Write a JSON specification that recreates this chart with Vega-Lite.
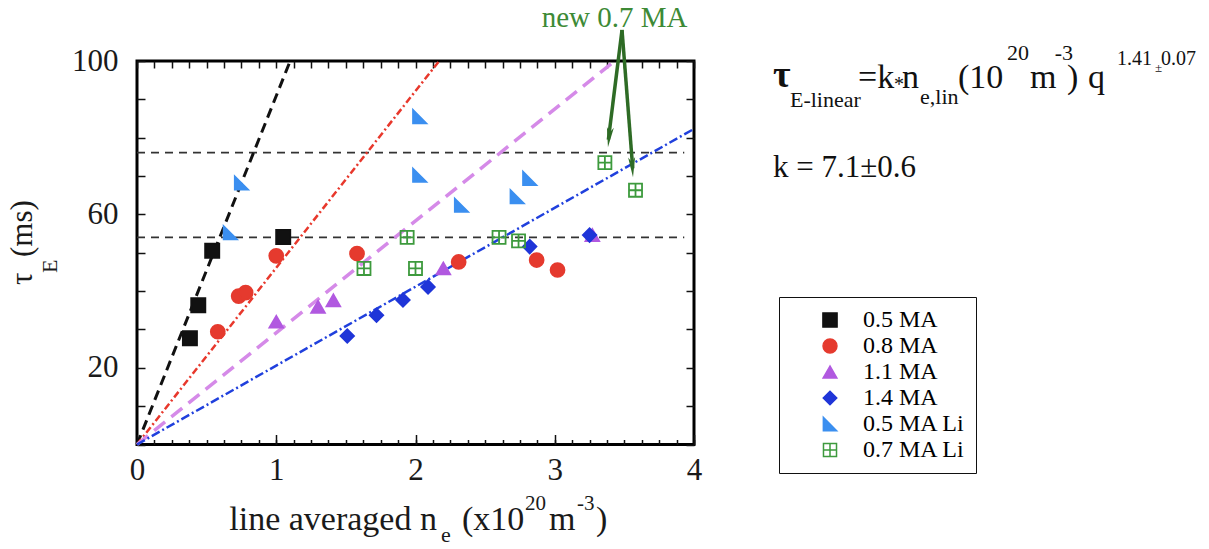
{
  "$schema": "https://vega.github.io/schema/vega-lite/v6.json",
  "width": 557,
  "height": 383.5,
  "autosize": "none",
  "padding": {"left": 137, "top": 61, "right": 515, "bottom": 104.5},
  "background": "white",
  "config": {
    "view": {"stroke": "#000000", "strokeWidth": 3},
    "axis": {"domain": false, "grid": false, "tickColor": "#111111", "tickWidth": 1.5, "labelFont": "Liberation Serif", "labelFontSize": 31, "labelColor": "#1a1a1a", "labelFlush": false, "labelOverlap": false}
  },
  "datasets": {
    "points": [
      {"series": "1.1 MA", "ne": 1.0, "tau": 32.0},
      {"series": "1.1 MA", "ne": 1.3, "tau": 35.9},
      {"series": "1.1 MA", "ne": 1.41, "tau": 37.6},
      {"series": "1.1 MA", "ne": 2.2, "tau": 45.9},
      {"series": "1.1 MA", "ne": 3.27, "tau": 54.6},
      {"series": "0.5 MA Li", "ne": 0.75, "tau": 68.2},
      {"series": "0.5 MA Li", "ne": 0.67, "tau": 55.2},
      {"series": "0.5 MA Li", "ne": 2.03, "tau": 85.5},
      {"series": "0.5 MA Li", "ne": 2.03, "tau": 70.2},
      {"series": "0.5 MA Li", "ne": 2.33, "tau": 62.4},
      {"series": "0.5 MA Li", "ne": 2.73, "tau": 64.6},
      {"series": "0.5 MA Li", "ne": 2.82, "tau": 69.4},
      {"series": "0.8 MA", "ne": 1.0, "tau": 49.2},
      {"series": "0.8 MA", "ne": 1.58, "tau": 49.8},
      {"series": "0.8 MA", "ne": 0.73, "tau": 38.7},
      {"series": "0.8 MA", "ne": 0.78, "tau": 39.6},
      {"series": "0.8 MA", "ne": 0.58, "tau": 29.4},
      {"series": "0.8 MA", "ne": 2.31, "tau": 47.6},
      {"series": "0.8 MA", "ne": 2.87, "tau": 48.1},
      {"series": "0.8 MA", "ne": 3.02, "tau": 45.5},
      {"series": "0.5 MA", "ne": 1.05, "tau": 54.1},
      {"series": "0.5 MA", "ne": 0.54, "tau": 50.5},
      {"series": "0.5 MA", "ne": 0.44, "tau": 36.3},
      {"series": "0.5 MA", "ne": 0.38, "tau": 27.7},
      {"series": "1.4 MA", "ne": 1.51, "tau": 28.3},
      {"series": "1.4 MA", "ne": 1.72, "tau": 33.7},
      {"series": "1.4 MA", "ne": 1.91, "tau": 37.7},
      {"series": "1.4 MA", "ne": 2.09, "tau": 41.1},
      {"series": "1.4 MA", "ne": 2.82, "tau": 51.6},
      {"series": "1.4 MA", "ne": 3.25, "tau": 54.6},
      {"series": "0.7 MA Li", "ne": 1.94, "tau": 54.0},
      {"series": "0.7 MA Li", "ne": 1.63, "tau": 45.9},
      {"series": "0.7 MA Li", "ne": 2.0, "tau": 45.9},
      {"series": "0.7 MA Li", "ne": 2.6, "tau": 54.0},
      {"series": "0.7 MA Li", "ne": 2.74, "tau": 53.1},
      {"series": "0.7 MA Li", "ne": 3.36, "tau": 73.5},
      {"series": "0.7 MA Li", "ne": 3.58, "tau": 66.3}
    ],
    "fits": [
      {"series": "0.5 MA", "ne": 0.0, "tau": 0.0},
      {"series": "0.5 MA", "ne": 1.1, "tau": 100.0},
      {"series": "0.8 MA", "ne": 0.0, "tau": 0.0},
      {"series": "0.8 MA", "ne": 2.17, "tau": 100.0},
      {"series": "1.1 MA", "ne": 0.0, "tau": 0.0},
      {"series": "1.1 MA", "ne": 3.43, "tau": 100.0},
      {"series": "1.4 MA", "ne": 0.0, "tau": 0.0},
      {"series": "1.4 MA", "ne": 4.0, "tau": 82.3}
    ],
    "hlines": [
      {"ne": 0, "ne2": 3.93, "tau": 76.1},
      {"ne": 0, "ne2": 3.93, "tau": 54.0}
    ],
    "arrows": [
      {"arrow": "L", "ne": 3.483, "tau": 108.1},
      {"arrow": "L", "ne": 3.385, "tau": 79.5},
      {"arrow": "R", "ne": 3.483, "tau": 108.1},
      {"arrow": "R", "ne": 3.56, "tau": 72.0}
    ],
    "heads": [
      {"arrow": "L", "ne": 3.382, "tau": 77.5},
      {"arrow": "R", "ne": 3.562, "tau": 69.7}
    ],
    "note": [{"ne": 3.43, "tau": 108.8, "label": "new 0.7 MA"}],
    "ftau": [{"ne": 4.567, "tau": 93.2, "label": "τ"}],
    "fsub": [
      {"ne": 4.689, "tau": 88.0, "label": "E-linear"},
      {"ne": 5.623, "tau": 88.8, "label": "e,lin"}
    ],
    "fmain": [
      {"ne": 5.178, "tau": 92.9, "label": "=k"},
      {"ne": 5.494, "tau": 92.9, "label": "n"},
      {"ne": 5.896, "tau": 92.9, "label": "(10"},
      {"ne": 6.413, "tau": 92.9, "label": "m"},
      {"ne": 6.679, "tau": 92.9, "label": ")"},
      {"ne": 6.83, "tau": 92.9, "label": "q"}
    ],
    "fstar": [{"ne": 5.436, "tau": 92.15, "label": "*"}],
    "fsup": [
      {"ne": 6.248, "tau": 100.2, "label": "20"},
      {"ne": 6.59, "tau": 100.2, "label": "-3"}
    ],
    "fexp": [
      {"ne": 7.038, "tau": 98.96, "label": "1.41"},
      {"ne": 7.354, "tau": 98.96, "label": "0.07"}
    ],
    "fpm": [{"ne": 7.311, "tau": 97.1, "label": "±"}],
    "fk": [{"ne": 4.567, "tau": 69.7, "label": "k = 7.1±0.6"}],
    "ytmain": [
      {"ne": -0.754, "tau": 41.6, "label": "τ"},
      {"ne": -0.754, "tau": 48.9, "label": "(ms)"}
    ],
    "ytsub": [{"ne": -0.575, "tau": 44.7, "label": "E"}],
    "xtright": [{"ne": 2.154, "tau": -22.3, "label": "line averaged n"}],
    "xtmain": [
      {"ne": 2.334, "tau": -22.3, "label": "(x10"},
      {"ne": 2.959, "tau": -22.3, "label": "m"},
      {"ne": 3.296, "tau": -22.3, "label": ")"}
    ],
    "xtsub": [{"ne": 2.183, "tau": -25.5, "label": "e"}],
    "xtsup": [
      {"ne": 2.786, "tau": -17.1, "label": "20"},
      {"ne": 3.16, "tau": -17.1, "label": "-3"}
    ]
  },
  "encoding": {
    "x": {"field": "ne", "type": "quantitative", "scale": {"domain": [0, 4], "nice": false, "zero": false}, "axis": null},
    "y": {"field": "tau", "type": "quantitative", "scale": {"domain": [0, 100], "nice": false, "zero": false}, "axis": null}
  },
  "layer": [
    {
      "data": {"name": "hlines"},
      "mark": {"type": "rule", "color": "#333333", "strokeWidth": 1.6, "strokeDash": [8, 6]},
      "encoding": {
        "x": {"field": "ne", "type": "quantitative", "scale": {"domain": [0, 4], "nice": false, "zero": false},
          "axis": {"orient": "top", "title": null, "labels": false, "tickSize": -7,
            "values": [0,0.125,0.25,0.375,0.5,0.625,0.75,0.875,1,1.125,1.25,1.375,1.5,1.625,1.75,1.875,2,2.125,2.25,2.375,2.5,2.625,2.75,2.875,3,3.125,3.25,3.375,3.5,3.625,3.75,3.875,4]}},
        "x2": {"field": "ne2"},
        "y": {"field": "tau", "type": "quantitative", "scale": {"domain": [0, 100], "nice": false, "zero": false},
          "axis": {"orient": "right", "title": null, "labels": false, "tickSize": -8, "values": [0,10,20,30,40,50,60,70,80,90,100]}}
      }
    },
    {
      "data": {"name": "fits"},
      "transform": [{"filter": "datum.series === '0.5 MA'"}],
      "mark": {"type": "line", "color": "#111111", "strokeWidth": 3, "strokeDash": [10, 6]},
      "encoding": {
        "x": {"field": "ne", "type": "quantitative", "scale": {"domain": [0, 4], "nice": false, "zero": false},
          "axis": {"orient": "bottom", "title": null, "labels": false, "tickSize": -5,
            "values": [0,0.125,0.25,0.375,0.5,0.625,0.75,0.875,1,1.125,1.25,1.375,1.5,1.625,1.75,1.875,2,2.125,2.25,2.375,2.5,2.625,2.75,2.875,3,3.125,3.25,3.375,3.5,3.625,3.75,3.875,4]}}
      }
    },
    {
      "data": {"name": "fits"},
      "transform": [{"filter": "datum.series === '0.8 MA'"}],
      "mark": {"type": "line", "color": "#e8382c", "strokeWidth": 2.5, "strokeDash": [7, 3, 2, 3]},
      "encoding": {}
    },
    {
      "data": {"name": "fits"},
      "transform": [{"filter": "datum.series === '1.1 MA'"}],
      "mark": {"type": "line", "color": "#d58ae8", "strokeWidth": 3.5, "strokeDash": [14, 8]},
      "encoding": {}
    },
    {
      "data": {"name": "fits"},
      "transform": [{"filter": "datum.series === '1.4 MA'"}],
      "mark": {"type": "line", "color": "#2040dd", "strokeWidth": 2.5, "strokeDash": [9, 3, 2, 3]},
      "encoding": {}
    },
    {
      "data": {"name": "points"},
      "mark": {"type": "point", "filled": true, "opacity": 1, "strokeWidth": 1.8},
      "encoding": {
        "x": {"field": "ne", "type": "quantitative", "scale": {"domain": [0, 4], "nice": false, "zero": false},
          "axis": {"orient": "bottom", "title": null, "tickSize": -10, "labelPadding": 21, "values": [0, 1, 2, 3, 4]}},
        "y": {"field": "tau", "type": "quantitative", "scale": {"domain": [0, 100], "nice": false, "zero": false},
          "axis": {"orient": "left", "title": null, "tickSize": -8, "labelPadding": 27, "values": [0,10,20,30,40,50,60,70,80,90,100],
            "labelExpr": "datum.value % 40 === 20 ? datum.label : ''"}},
        "shape": {"field": "series", "type": "nominal",
          "scale": {"domain": ["0.5 MA", "0.8 MA", "1.1 MA", "1.4 MA", "0.5 MA Li", "0.7 MA Li"],
            "range": ["square", "circle", "triangle-up", "diamond", "M-1,-1L-1,1L1,1Z", "M-1,-1H1V1H-1Z M0,-1V1 M-1,0H1"]},
          "legend": {"orient": "none", "legendX": 642, "legendY": 236, "title": null, "strokeColor": "#111111", "fillColor": "white", "padding": 11,
            "labelFont": "Liberation Serif", "labelFontSize": 24, "labelOffset": 21, "symbolOffset": 28, "rowPadding": 2,
            "encode": {"labels": {"update": {"fill": {"signal": "datum.value === '0.5 MA' ? '#333333' : datum.value === '0.8 MA' ? '#e8453c' : datum.value === '1.1 MA' ? '#c47fe4' : datum.value === '1.4 MA' ? '#4747c8' : datum.value === '0.5 MA Li' ? '#4a9cf0' : '#3f9140'"}}}}
          }
        },
        "fill": {"field": "series", "type": "nominal",
          "scale": {"domain": ["0.5 MA", "0.8 MA", "1.1 MA", "1.4 MA", "0.5 MA Li", "0.7 MA Li"],
            "range": ["#111111", "#e53a2e", "#b159e0", "#1f35d8", "#3b8ff0", "transparent"]},
          "legend": {"orient": "none", "legendX": 642, "legendY": 236, "title": null}},
        "stroke": {"field": "series", "type": "nominal",
          "scale": {"domain": ["0.5 MA", "0.8 MA", "1.1 MA", "1.4 MA", "0.5 MA Li", "0.7 MA Li"],
            "range": ["#111111", "#e53a2e", "#b159e0", "#1f35d8", "#3b8ff0", "#3d9a3d"]},
          "legend": {"orient": "none", "legendX": 642, "legendY": 236, "title": null}},
        "size": {"field": "series", "type": "nominal",
          "scale": {"domain": ["0.5 MA", "0.8 MA", "1.1 MA", "1.4 MA", "0.5 MA Li", "0.7 MA Li"],
            "range": [200, 170, 150, 170, 190, 220]},
          "legend": {"orient": "none", "legendX": 642, "legendY": 236, "title": null}}
      }
    },
    {
      "data": {"name": "arrows"},
      "mark": {"type": "line", "color": "#2e6b25", "strokeWidth": 3.5},
      "encoding": {"detail": {"field": "arrow"}}
    },
    {
      "data": {"name": "heads"},
      "transform": [{"filter": "datum.arrow === 'L'"}],
      "mark": {"type": "point", "shape": "M0,0L-0.35,-2L0,-1.5L0.35,-2Z", "size": 400, "filled": true, "color": "#2e6b25", "opacity": 1, "angle": 7},
      "encoding": {}
    },
    {
      "data": {"name": "heads"},
      "transform": [{"filter": "datum.arrow === 'R'"}],
      "mark": {"type": "point", "shape": "M0,0L-0.35,-2L0,-1.5L0.35,-2Z", "size": 400, "filled": true, "color": "#2e6b25", "opacity": 1, "angle": 356},
      "encoding": {}
    },
    {
      "data": {"name": "note"},
      "mark": {"type": "text", "font": "Liberation Serif", "fontSize": 29, "align": "center", "baseline": "alphabetic", "color": "#3d8a36"},
      "encoding": {"text": {"field": "label"}}
    },
    {
      "data": {"name": "ftau"},
      "mark": {"type": "text", "font": "Liberation Serif", "fontSize": 38, "fontWeight": "bold", "align": "left", "baseline": "alphabetic", "color": "#111111"},
      "encoding": {"text": {"field": "label"}}
    },
    {
      "data": {"name": "fsub"},
      "mark": {"type": "text", "font": "Liberation Serif", "fontSize": 22, "align": "left", "baseline": "alphabetic", "color": "#111111"},
      "encoding": {"text": {"field": "label"}}
    },
    {
      "data": {"name": "fmain"},
      "mark": {"type": "text", "font": "Liberation Serif", "fontSize": 34, "align": "left", "baseline": "alphabetic", "color": "#111111"},
      "encoding": {"text": {"field": "label"}}
    },
    {
      "data": {"name": "fstar"},
      "mark": {"type": "text", "font": "Liberation Serif", "fontSize": 20, "align": "left", "baseline": "alphabetic", "color": "#111111"},
      "encoding": {"text": {"field": "label"}}
    },
    {
      "data": {"name": "fsup"},
      "mark": {"type": "text", "font": "Liberation Serif", "fontSize": 22, "align": "left", "baseline": "alphabetic", "color": "#111111"},
      "encoding": {"text": {"field": "label"}}
    },
    {
      "data": {"name": "fexp"},
      "mark": {"type": "text", "font": "Liberation Serif", "fontSize": 20, "align": "left", "baseline": "alphabetic", "color": "#111111"},
      "encoding": {"text": {"field": "label"}}
    },
    {
      "data": {"name": "fpm"},
      "mark": {"type": "text", "font": "Liberation Serif", "fontSize": 13, "align": "left", "baseline": "alphabetic", "color": "#111111"},
      "encoding": {"text": {"field": "label"}}
    },
    {
      "data": {"name": "fk"},
      "mark": {"type": "text", "font": "Liberation Serif", "fontSize": 31, "align": "left", "baseline": "alphabetic", "color": "#111111"},
      "encoding": {"text": {"field": "label"}}
    },
    {
      "data": {"name": "ytmain"},
      "mark": {"type": "text", "font": "Liberation Serif", "fontSize": 31, "align": "left", "baseline": "alphabetic", "angle": 270, "color": "#1a1a1a"},
      "encoding": {"text": {"field": "label"}}
    },
    {
      "data": {"name": "ytsub"},
      "mark": {"type": "text", "font": "Liberation Serif", "fontSize": 22, "align": "left", "baseline": "alphabetic", "angle": 270, "color": "#1a1a1a"},
      "encoding": {"text": {"field": "label"}}
    },
    {
      "data": {"name": "xtright"},
      "mark": {"type": "text", "font": "Liberation Serif", "fontSize": 34, "align": "right", "baseline": "alphabetic", "color": "#1a1a1a"},
      "encoding": {"text": {"field": "label"}}
    },
    {
      "data": {"name": "xtmain"},
      "mark": {"type": "text", "font": "Liberation Serif", "fontSize": 34, "align": "left", "baseline": "alphabetic", "color": "#1a1a1a"},
      "encoding": {"text": {"field": "label"}}
    },
    {
      "data": {"name": "xtsub"},
      "mark": {"type": "text", "font": "Liberation Serif", "fontSize": 22, "align": "left", "baseline": "alphabetic", "color": "#1a1a1a"},
      "encoding": {"text": {"field": "label"}}
    },
    {
      "data": {"name": "xtsup"},
      "mark": {"type": "text", "font": "Liberation Serif", "fontSize": 21, "align": "left", "baseline": "alphabetic", "color": "#1a1a1a"},
      "encoding": {"text": {"field": "label"}}
    }
  ],
  "resolve": {"axis": {"x": "independent", "y": "independent"}}
}
